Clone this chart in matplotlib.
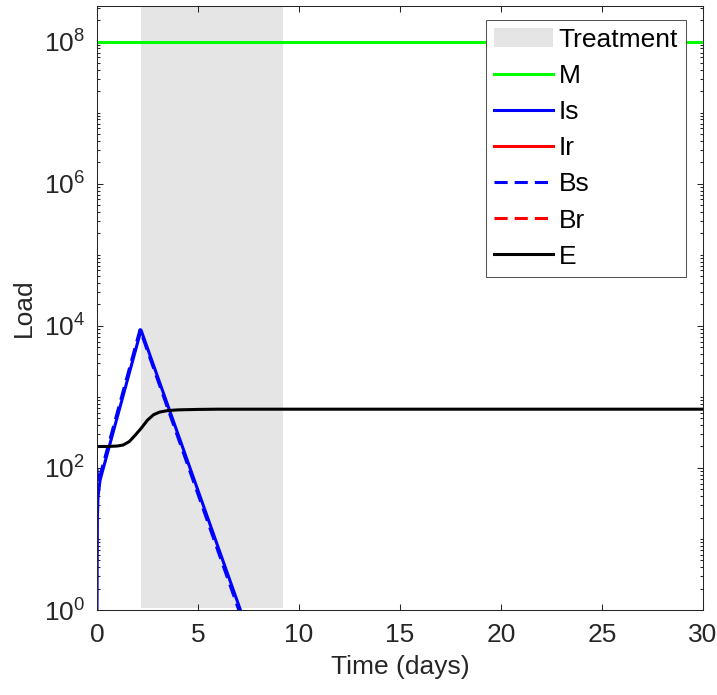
import numpy as np
import matplotlib; matplotlib.use("Agg")
import matplotlib.pyplot as plt
from matplotlib.ticker import LogLocator, NullFormatter, FixedLocator

plt.rcParams['font.family'] = ['Liberation Sans', 'DejaVu Sans']
plt.rcParams['mathtext.fontset'] = 'custom'
plt.rcParams['mathtext.rm'] = 'Liberation Sans'
plt.rcParams['mathtext.it'] = 'Liberation Sans:italic'
plt.rcParams['mathtext.bf'] = 'Liberation Sans:bold'

INK = "#262626"
FS = 19

# treatment window (days)
treat = (2.2, 9.2)

# series
t_M = [0, 30];                  M = [1e8, 1e8]
t_Is = [0, 0.02, 0.05, 0.15, 2.18, 7.1, 7.4]
Is = [1, 20, 39, 67, 8700, 1, 0.58]
t_Ir = [0, 30];                 Ir = [0, 0]
t_Bs = [0, 0.03, 0.08, 2.13, 7.02, 7.3]
Bs = [100, 62, 66, 8800, 1, 0.58]
t_Br = [0, 30];                 Br = [0, 0]
t_E = [0, 0.5, 1.0, 1.3, 1.6, 1.9, 2.2, 2.5, 2.8, 3.1, 3.5, 4.0, 5.0, 6.0, 30]
E = [200, 200, 203, 210, 235, 290, 365, 470, 560, 610, 640, 655, 665, 670, 670]

fig = plt.figure(figsize=(7.17, 6.95), dpi=100)
ax = fig.add_axes([97/717, 1-610/695, 606/717, 604/695])

ax.axvspan(*treat, ymin=0.004, ymax=1, color="#e5e5e5", lw=0, label="Treatment", zorder=0)
ax.plot(t_M, M, color="#00ff00", lw=2.2, label="M")
ax.plot(t_Is, Is, color="#0000ff", lw=2.2, label="Is")
ax.plot(t_Ir, Ir, color="#ff0000", lw=2.2, label="Ir")
ax.plot(t_Bs, Bs, color="#0000ff", lw=2.2, ls=(0, (4.3, 2.3)), label="Bs")
ax.plot(t_Br, Br, color="#ff0000", lw=2.2, ls=(0, (4.3, 2.3)), label="Br")
ax.plot(t_E, E, color="black", lw=2.2, label="E")

ax.set_yscale('log')
ax.set_xlim(0, 30)
ax.set_ylim(1, 10**8.5)
ax.xaxis.set_major_locator(FixedLocator(range(0, 31, 5)))
ax.yaxis.set_major_locator(FixedLocator([1, 1e2, 1e4, 1e6, 1e8]))
ax.yaxis.set_minor_locator(LogLocator(base=10, subs=np.arange(1, 10), numticks=30))
ax.yaxis.set_minor_formatter(NullFormatter())
ax.tick_params(which='both', direction='in', top=True, right=True, colors=INK,
               labelsize=FS, width=0.75)
ax.tick_params(which='major', length=4.5)
ax.tick_params(which='minor', length=2.2)
ax.tick_params(axis='x', which='major', pad=9.5)
ax.tick_params(axis='y', which='major', pad=8.5)
for s in ax.spines.values():
    s.set_color(INK); s.set_linewidth(0.75)

ax.set_xlabel("Time (days)", fontsize=FS, color=INK, labelpad=5.5)
ax.set_ylabel("Load", fontsize=FS, color=INK, labelpad=6)

lg = ax.legend(loc='upper right', bbox_to_anchor=(0.972, 0.977), borderaxespad=0,
               fontsize=FS, frameon=True, fancybox=False, edgecolor="#555555",
               handlelength=2.25, handletextpad=0.2, labelspacing=0.46,
               borderpad=0.3, framealpha=1)
lg.get_frame().set_linewidth(0.75)

fig.savefig("out.png", dpi=100, facecolor="white")
